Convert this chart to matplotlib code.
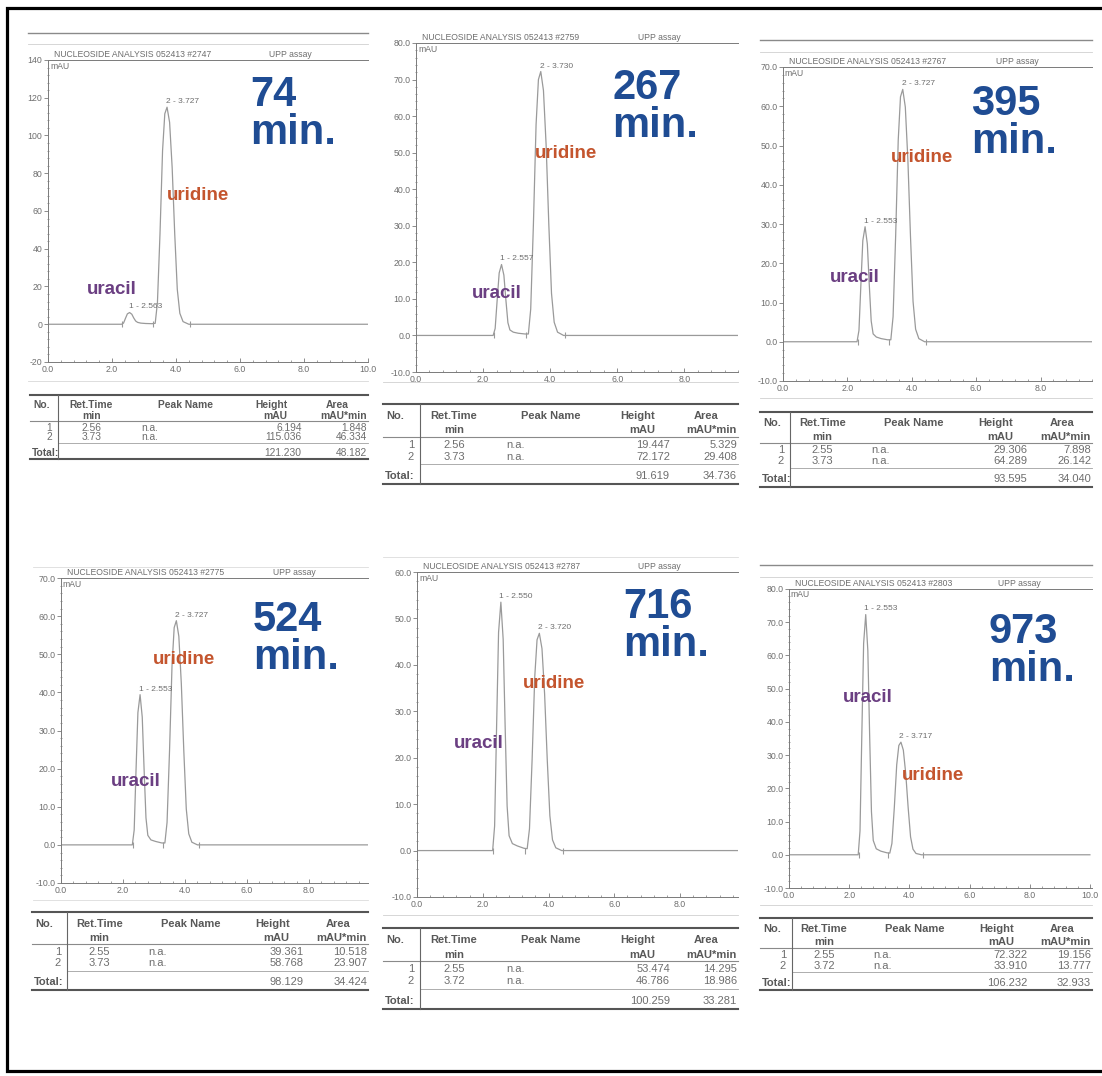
import matplotlib
matplotlib.use("Agg")
import matplotlib.pyplot as plt
from matplotlib.ticker import MultipleLocator, AutoMinorLocator, FormatStrFormatter

plt.rcParams["font.family"] = ["Liberation Sans", "DejaVu Sans"]

W, H = 1102, 1076

# ---- data --------------------------------------------------------------
SAMPLES = ["#2747", "#2759", "#2767", "#2775", "#2787", "#2803"]
ELAPSED = [74, 267, 395, 524, 716, 973]          # minutes after start
APEX_RT = [[2.563, 3.727], [2.557, 3.730], [2.553, 3.727],
           [2.553, 3.727], [2.550, 3.720], [2.553, 3.717]]
RET_TIME = [[2.56, 3.73], [2.56, 3.73], [2.55, 3.73],
            [2.55, 3.73], [2.55, 3.72], [2.55, 3.72]]
HEIGHT = [[6.194, 115.036], [19.447, 72.172], [29.306, 64.289],
          [39.361, 58.768], [53.474, 46.786], [72.322, 33.910]]
AREA = [[1.848, 46.334], [5.329, 29.408], [7.898, 26.142],
        [10.518, 23.907], [14.295, 18.986], [19.156, 13.777]]
TOTAL_H = [121.230, 91.619, 93.595, 98.129, 100.259, 106.232]
TOTAL_A = [48.182, 34.736, 34.040, 34.424, 33.281, 32.933]

# trace, sampled by eye (time in min, signal in mAU)
T = [0.0, 2.30, 2.36, 2.42, 2.48, 2.55, 2.62, 2.68, 2.74, 2.80, 2.90, 3.05, 3.25,
     3.35, 3.42, 3.50, 3.58, 3.65, 3.72, 3.80, 3.88, 3.96, 4.04, 4.12, 4.22, 4.40, 10.0]
SIGNAL = [
    [0, 0, 0.6, 3.1, 5.5, 6.2, 5.3, 3.3, 1.7, 1.0, 0.6, 0.4, 0.3,
     0.5, 11.5, 48, 92, 111.5, 115, 107, 83, 48, 18.5, 5.8, 1.4, 0, 0],
    [0, 0, 1.9, 9.7, 17.1, 19.4, 16.5, 9.7, 3.5, 1.5, 0.9, 0.6, 0.4,
     0.4, 7.2, 30.3, 57.7, 70.0, 72.2, 67.0, 52.0, 30.3, 11.5, 3.6, 0.9, 0, 0],
    [0, 0, 2.9, 14.6, 25.8, 29.3, 24.9, 14.6, 5.3, 2.0, 1.2, 0.8, 0.5,
     0.5, 6.4, 27.0, 51.4, 62.4, 64.3, 59.8, 46.3, 27.0, 10.3, 3.2, 0.8, 0, 0],
    [0, 0, 3.9, 19.7, 34.7, 39.4, 33.5, 19.7, 7.1, 2.5, 1.3, 0.9, 0.5,
     0.5, 5.9, 24.7, 47.0, 57.0, 58.8, 54.7, 42.3, 24.7, 9.4, 2.9, 0.7, 0, 0],
    [0, 0, 5.3, 26.7, 47.0, 53.5, 45.5, 26.7, 9.6, 3.2, 1.5, 1.0, 0.5,
     0.4, 4.7, 19.6, 37.4, 45.4, 46.8, 43.5, 33.7, 19.6, 7.5, 2.3, 0.6, 0, 0],
    [0, 0, 7.2, 36.0, 63.6, 72.3, 61.5, 36.0, 13.0, 4.3, 1.8, 1.1, 0.6,
     0.5, 3.4, 14.2, 27.1, 32.9, 33.9, 31.5, 24.4, 14.2, 5.4, 1.7, 0.4, 0, 0],
]
PEAK_BOUNDS = [2.32, 3.28, 4.45]
Y_RANGE = [(-20, 140, 20), (-10, 80, 10), (-10, 70, 10),
           (-10, 70, 10), (-10, 60, 10), (-10, 80, 10)]

# ---- layout (pixels of the 1102x1076 page) ------------------------------
AX_BOX = [(48, 60, 368, 362), (416, 43, 738, 372), (783, 67, 1092, 381),
          (61, 578, 368, 883), (417, 572, 738, 897), (789, 589, 1092, 888)]
X_MAX = [10.0, 9.6, 9.6, 9.9, 9.76, 10.07]
TABLE = [(30, 58, 368, 395, 459, 7.4), (383, 420, 738, 404, 484, 8.0),
         (760, 790, 1092, 412, 487, 8.0), (32, 67, 368, 912, 990, 8.0),
         (383, 420, 738, 928, 1009, 8.0), (760, 792, 1092, 918, 990, 8.0)]
BIG = [(250, 75), (612, 68), (971, 84), (253, 600), (623, 587), (989, 612)]
URIDINE_XY = [(198, 195), (566, 153), (922, 158), (184, 660), (554, 683), (933, 775)]
URACIL_XY = [(112, 289), (497, 294), (855, 277), (136, 782), (479, 744), (868, 697)]
RULES = [  # faint page rules: (x0, x1, y, lw, colour)
    (28, 368, 33, 1.0, "#8a8a8a"), (28, 368, 44, 0.6, "#d0d0d0"), (28, 368, 381, 0.6, "#d8d8d8"),
    (383, 738, 382, 0.6, "#d0d0d0"),
    (760, 1092, 40, 1.0, "#8a8a8a"), (760, 1092, 52, 0.6, "#d0d0d0"), (760, 1092, 398, 0.6, "#d0d0d0"),
    (33, 368, 567, 0.6, "#dcdcdc"), (33, 368, 900, 0.6, "#dcdcdc"),
    (383, 738, 557, 0.6, "#dcdcdc"), (383, 738, 915, 0.6, "#d0d0d0"),
    (760, 1092, 565, 1.0, "#8a8a8a"), (760, 1092, 577, 0.6, "#d0d0d0"), (760, 1092, 905, 0.6, "#d0d0d0"),
]

TRACE = "#9a9a9a"
AXC = "#7a7a7a"
TXT = "#6e6e6e"
HDR = "#585858"
BLUE = "#1f4c93"
URI_C = "#c4552e"
URA_C = "#6b3f82"

fig = plt.figure(figsize=(W / 100, H / 100), dpi=100)


def box(l, t, r, b):
    return [l / W, 1 - b / H, (r - l) / W, (b - t) / H]


for i in range(6):
    ax = fig.add_axes(box(*AX_BOX[i]))
    ymin, ymax, step = Y_RANGE[i]
    ax.plot(T, SIGNAL[i], color=TRACE, lw=0.9, solid_joinstyle="round")
    ax.plot(PEAK_BOUNDS, [0] * len(PEAK_BOUNDS), "|", color=TRACE, ms=5, mew=0.8)
    for k in range(2):
        ax.annotate(f"{k + 1} - {APEX_RT[i][k]:.3f}", xy=(APEX_RT[i][k], HEIGHT[i][k]),
                    xytext=(-1, 1.5), textcoords="offset points", ha="left", va="bottom",
                    fontsize=6, color=TXT)
    ax.set_xlim(0, X_MAX[i])
    ax.set_ylim(ymin, ymax)
    ax.xaxis.set_major_locator(MultipleLocator(2))
    ax.xaxis.set_minor_locator(AutoMinorLocator(5))
    ax.xaxis.set_major_formatter(FormatStrFormatter("%.1f"))
    ax.yaxis.set_major_locator(MultipleLocator(step))
    ax.yaxis.set_minor_locator(AutoMinorLocator(5))
    ax.yaxis.set_major_formatter(FormatStrFormatter("%d" if i == 0 else "%.1f"))
    ax.spines["right"].set_visible(False)
    for s in ("left", "bottom", "top"):
        ax.spines[s].set_color(AXC)
        ax.spines[s].set_linewidth(0.7)
    ax.tick_params(axis="y", which="major", direction="out", length=3, width=0.6,
                   color=AXC, labelsize=6.3, labelcolor=TXT, pad=1)
    ax.tick_params(axis="y", which="minor", direction="inout", length=2, width=0.5, color=AXC)
    ax.tick_params(axis="x", which="major", direction="in", length=3, width=0.6,
                   color=AXC, labelsize=6.3, labelcolor=TXT, pad=2)
    ax.tick_params(axis="x", which="minor", direction="in", length=1.6, width=0.5, color=AXC)
    ax.set_facecolor("none")
    ax.text(0.02, 1.003, f"NUCLEOSIDE ANALYSIS 052413 {SAMPLES[i]}", transform=ax.transAxes,
            ha="left", va="bottom", fontsize=6.2, color=TXT)
    ax.text(0.69, 1.003, "UPP assay", transform=ax.transAxes,
            ha="left", va="bottom", fontsize=6.2, color=TXT)
    ax.text(0.006, 0.995, "mAU", transform=ax.transAxes,
            ha="left", va="top", fontsize=6.2, color=TXT)

# overlay in page pixels for tables, rules and hand-written labels
ov = fig.add_axes([0, 0, 1, 1], zorder=10)
ov.set_xlim(0, W)
ov.set_ylim(H, 0)
ov.axis("off")
ov.patch.set_visible(False)

# page frame (open on the right)
ov.plot([W + 5, 7, 7, W + 5], [8, 8, 1071, 1071], color="black", lw=2.3,
        clip_on=False, solid_joinstyle="miter")

for x0, x1, y, lw, c in RULES:
    ov.plot([x0, x1], [y, y], color=c, lw=lw)

for i in range(6):
    left, div, right, top, bot, fs = TABLE[i]
    h = bot - top
    span = right - div

    def Y(f):
        return top + f * h

    def X(f):
        return div + f * span

    ov.plot([left, right], [top, top], color="#555555", lw=1.5)
    ov.plot([left, right], [bot, bot], color="#555555", lw=1.5)
    ov.plot([left, right], [Y(0.41), Y(0.41)], color="#8a8a8a", lw=0.8)
    ov.plot([div, right], [Y(0.75), Y(0.75)], color="#a0a0a0", lw=0.6)
    ov.plot([div, div], [top, bot], color="#666666", lw=0.8)

    hk = dict(fontsize=fs, color=HDR, fontweight="bold", va="center")
    ov.text(left + 3, Y(0.15), "No.", ha="left", **hk)
    ov.text(X(0.107), Y(0.15), "Ret.Time", ha="center", **hk)
    ov.text(X(0.107), Y(0.33), "min", ha="center", **hk)
    ov.text(X(0.41), Y(0.15), "Peak Name", ha="center", **hk)
    ov.text(X(0.74), Y(0.15), "Height", ha="right", **hk)
    ov.text(X(0.74), Y(0.33), "mAU", ha="right", **hk)
    ov.text(X(0.90), Y(0.15), "Area", ha="center", **hk)
    ov.text(X(0.997), Y(0.33), "mAU*min", ha="right", **hk)
    ov.text(left + 2, Y(0.90), "Total:", ha="left", **hk)

    vk = dict(fontsize=fs, color=TXT, va="center")
    for k, fr in enumerate([0.51, 0.66]):
        ov.text(div - 6, Y(fr), str(k + 1), ha="right", **vk)
        ov.text(X(0.107), Y(fr), f"{RET_TIME[i][k]:.2f}", ha="center", **vk)
        ov.text(X(0.27), Y(fr), "n.a.", ha="left", **vk)
        ov.text(X(0.786), Y(fr), f"{HEIGHT[i][k]:.3f}", ha="right", **vk)
        ov.text(X(0.997), Y(fr), f"{AREA[i][k]:.3f}", ha="right", **vk)
    ov.text(X(0.786), Y(0.90), f"{TOTAL_H[i]:.3f}", ha="right", **vk)
    ov.text(X(0.997), Y(0.90), f"{TOTAL_A[i]:.3f}", ha="right", **vk)

    bx, by = BIG[i]
    ov.text(bx, by, f"{ELAPSED[i]}\nmin.", ha="left", va="top", fontsize=30,
            fontweight="bold", color=BLUE, linespacing=0.95)
    ov.text(*URIDINE_XY[i], "uridine", ha="center", va="center", fontsize=13.5,
            fontweight="bold", color=URI_C)
    ov.text(*URACIL_XY[i], "uracil", ha="center", va="center", fontsize=13.5,
            fontweight="bold", color=URA_C)

fig.savefig("out.png", dpi=100, facecolor="white")
